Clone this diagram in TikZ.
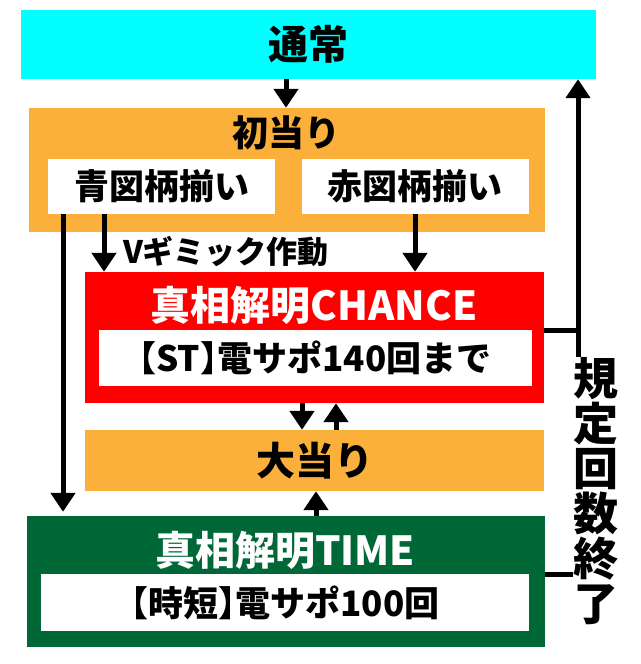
\documentclass[tikz,border=0pt]{standalone}
\usepackage{fontspec}
\setmainfont{Noto Sans CJK JP}
\newfontfamily\halfpunct{Noto Sans CJK JP}[RawFeature=+halt]
\usetikzlibrary{arrows.meta}

\definecolor{cyanbox}{RGB}{0,255,255}
\definecolor{orangebox}{RGB}{251,176,59}
\definecolor{redbox}{RGB}{255,0,0}
\definecolor{greenbox}{RGB}{0,104,55}

\begin{document}
\begin{tikzpicture}[x=1pt,y=-1pt,
  box/.style={rectangle,inner sep=0pt,minimum width=#1},
  title/.style={inner sep=0pt,font=\bfseries\fontsize{40}{40}\selectfont},
  sub/.style={inner sep=0pt,font=\bfseries\fontsize{35}{35}\selectfont},
  link/.style={line width=5pt},
  arr/.style={link,-{Triangle[width=24pt,length=19pt]}}]
\useasboundingbox (0,0) rectangle (640,664);

% Top state
\node[box=575pt,fill=cyanbox,minimum height=69pt,title] (tsujo) at (308.5,44.5) {通常};

% First hit with the two reel results
\node[box=516pt,fill=orangebox,minimum height=124pt] (hatsu) at (286.5,170) {};
\node[sub,font=\bfseries\fontsize{36}{36}\selectfont] (hatsulabel) at (286,133) {初当り};
\node[box=227pt,fill=white,minimum height=55pt,sub] (ao) at (161.5,186.5) {青図柄揃い};
\node[box=227pt,fill=white,minimum height=55pt,sub] (aka) at (415,186.5) {赤図柄揃い};
\node[inner sep=0pt,font=\bfseries\fontsize{31}{31}\selectfont] (gimmick) at (226,251) {Vギミック作動};

% CHANCE (ST)
\node[box=459pt,fill=redbox,minimum height=131pt] (chance) at (314.5,337.5) {};
\node[title,text=white] (chancelabel) at (314,305) {真相解明CHANCE};
\node[box=433pt,fill=white,minimum height=56pt,sub,font=\halfpunct\bfseries\fontsize{35}{35}\selectfont] (st) at (315,358) {【ST】電サポ140回まで};

% Jackpot
\node[box=459pt,fill=orangebox,minimum height=61pt,title,font=\bfseries\fontsize{39}{39}\selectfont] (ooatari) at (314.5,460.5) {大当り};

% TIME (jitan)
\node[box=518pt,fill=greenbox,minimum height=131pt] (time) at (285.5,581.5) {};
\node[title,text=white] (timelabel) at (285,550) {真相解明TIME};
\node[box=488pt,fill=white,minimum height=57pt,sub,font=\halfpunct\bfseries\fontsize{35}{35}\selectfont] (jitan) at (285,602.5) {【時短】電サポ100回};

% Vertical label on the return path
\node[inner sep=0pt,align=center,font=\bfseries\fontsize{45}{45}\selectfont] (kitei) at (596,491) {規\\定\\回\\数\\終\\了};

\coordinate (rail) at (578,330);
\coordinate (foot) at (0,574.5);

% Connectors
\draw[arr] (tsujo.south -| hatsulabel) -- (hatsu.north -| hatsulabel);
\draw[arr,shorten >=4pt] (ao.south -| 63,0) -- (time.north -| 63,0);
\draw[arr] (ao.south -| 104,0) -- (chance.north -| 104,0);
\draw[arr] (aka.south) -- (chance.north -| aka.south);
\draw[arr] (chance.south -| 302,0) -- (ooatari.north -| 302,0);
\draw[arr] (ooatari.north -| 336,0) -- (chance.south -| 336,0);
\draw[arr] (time.north -| 316,0) -- (ooatari.south -| 316,0);
\draw[link] (chance.east |- rail) -- (rail);
\draw[arr] (kitei.north -| rail) -- (rail |- tsujo.south);
\draw[link] (time.east |- foot) -- (kitei.west |- foot);

\end{tikzpicture}
\end{document}
